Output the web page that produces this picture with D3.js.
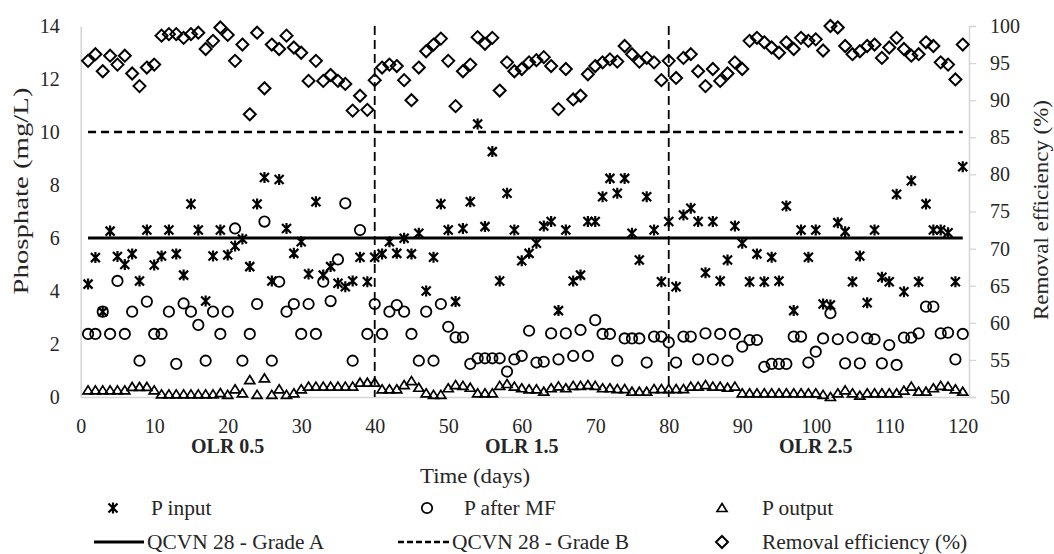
<!DOCTYPE html>
<html>
<head>
<meta charset="utf-8">
<script src="https://cdn.jsdelivr.net/npm/d3@7"></script>
<style>
  html, body { margin: 0; padding: 0; background: #fff; }
  svg { display: block; }
  text { font-family: "Liberation Serif", "DejaVu Serif", serif; fill: #262626; }
</style>
</head>
<body>
<svg id="chart" width="1054" height="554"></svg>
<script>
// ---------------- DATA ----------------
const days = [1,2,3,4,5,6,7,8,9,10,11,12,13,14,15,16,17,18,19,20,
  21,22,23,24,25,26,27,28,29,30,31,32,33,34,35,36,37,38,39,40,
  41,42,43,44,45,46,47,48,49,50,51,52,53,54,55,56,57,58,59,60,
  61,62,63,64,65,66,67,68,69,70,71,72,73,74,75,76,77,78,79,80,
  81,82,83,84,85,86,87,88,89,90,91,92,93,94,95,96,97,98,99,100,
  101,102,103,104,105,106,107,108,109,110,111,112,113,114,115,116,117,118,119,120];

const pInput = [4.26,5.26,3.22,6.26,5.3,5.0,5.4,4.38,6.3,4.98,
  5.32,6.3,5.4,4.6,7.28,6.3,3.62,5.32,6.3,5.36,
  5.7,5.96,4.92,7.28,8.28,4.38,8.21,6.36,5.42,5.86,
  4.64,7.37,4.6,4.92,4.29,4.16,4.38,5.27,4.35,5.27,
  5.4,5.86,5.42,5.99,5.4,6.18,4.0,5.27,7.28,6.3,
  3.6,6.36,7.37,10.3,6.43,9.26,4.38,7.69,6.3,5.14,
  5.42,5.8,6.45,6.62,3.26,6.3,4.38,4.6,6.62,6.62,
  7.56,8.25,7.69,8.25,6.18,5.17,7.56,6.3,4.35,6.62,
  4.16,6.87,7.12,6.62,4.69,6.62,4.38,5.17,6.45,5.8,
  4.35,5.4,4.35,5.27,4.38,7.21,3.26,6.3,5.27,6.3,
  3.51,3.47,6.58,6.24,4.35,5.32,3.56,6.3,4.52,4.35,
  7.65,3.97,8.16,4.35,7.28,6.3,6.3,6.2,4.35,8.69];

const pAfterMF = [2.38,2.38,3.22,2.38,4.38,2.38,3.22,1.37,3.6,2.38,
  2.38,3.22,1.25,3.53,3.22,2.72,1.37,3.22,2.38,3.22,
  6.36,1.37,2.38,3.51,6.62,1.37,4.35,3.22,3.51,2.38,
  3.51,2.38,4.35,3.62,5.19,7.31,1.37,6.3,2.38,3.51,
  2.38,3.22,3.47,3.22,2.38,1.37,3.22,1.37,3.51,2.65,
  2.25,2.25,1.25,1.46,1.46,1.46,1.46,0.96,1.42,1.55,
  2.5,1.3,1.33,2.4,1.42,2.4,1.55,2.53,1.55,2.9,
  2.38,2.38,1.37,2.21,2.21,2.21,1.3,2.28,2.28,2.06,
  1.3,2.28,2.28,1.42,2.4,1.42,2.38,1.37,2.38,1.9,
  2.15,2.15,1.14,1.25,1.25,1.25,2.28,2.28,1.3,1.71,
  2.21,3.16,2.18,1.27,2.25,1.27,2.21,2.18,1.27,1.96,
  1.21,2.24,2.24,2.4,3.41,3.41,2.4,2.43,1.42,2.38];

const pOutput = [0.25,0.25,0.25,0.25,0.25,0.25,0.38,0.38,0.38,0.25,
  0.1,0.1,0.1,0.1,0.1,0.1,0.1,0.1,0.15,0.08,
  0.29,0.14,0.64,0.08,0.7,0.08,0.29,0.08,0.14,0.29,
  0.39,0.39,0.39,0.39,0.39,0.39,0.39,0.54,0.54,0.54,
  0.29,0.29,0.29,0.45,0.6,0.35,0.14,0.08,0.08,0.33,
  0.45,0.42,0.35,0.14,0.14,0.14,0.42,0.49,0.39,0.33,
  0.29,0.29,0.2,0.33,0.4,0.33,0.42,0.42,0.45,0.42,
  0.33,0.33,0.3,0.3,0.2,0.2,0.2,0.3,0.3,0.3,
  0.3,0.3,0.39,0.39,0.45,0.39,0.39,0.35,0.39,0.14,
  0.14,0.14,0.14,0.14,0.14,0.14,0.14,0.14,0.14,0.14,
  0.08,0.0,0.14,0.25,0.14,0.05,0.14,0.14,0.14,0.14,
  0.14,0.24,0.39,0.2,0.2,0.33,0.42,0.39,0.29,0.2];

const removalEff = [95.3,96.2,93.9,96.0,94.8,96.0,93.6,91.9,94.4,94.8,
  98.7,98.9,98.9,98.4,98.9,99.1,96.9,98.0,99.8,98.8,
  95.3,97.5,88.1,99.1,91.6,97.5,96.9,98.7,97.1,96.4,
  92.6,95.3,92.6,93.4,92.6,92.2,88.6,90.6,88.7,92.7,
  94.4,94.8,94.6,92.7,90.0,94.4,96.6,97.5,98.3,95.3,
  89.2,93.9,94.8,98.5,97.6,98.4,91.3,95.1,93.9,94.2,
  95.1,95.4,95.8,94.6,88.8,94.2,90.1,90.6,93.5,94.6,
  95.1,95.5,95.2,97.3,96.2,95.2,95.7,95.1,92.7,95.3,
  93.0,95.7,96.2,93.9,91.9,94.2,92.6,93.6,95.1,94.2,
  98.0,98.4,97.8,97.1,96.4,97.8,96.9,98.4,98.0,98.2,
  96.7,100,99.8,97.3,96.2,96.6,97.3,97.5,95.7,97.1,
  98.4,96.9,96.0,96.2,97.8,97.3,95.1,94.8,92.8,97.5];

const gradeA = 6;      // QCVN 28 - Grade A (mg/L)
const gradeB = 10;     // QCVN 28 - Grade B (mg/L)
const phaseBounds = [40, 80];
const phaseLabels = ["OLR 0.5", "OLR 1.5", "OLR 2.5"];
const phaseCenters = [20, 60, 100];
const xTicks = [0,10,20,30,40,50,60,70,80,90,100,110,120];
const yLeftTicks = [0,2,4,6,8,10,12,14];
const yRightTicks = [50,55,60,65,70,75,80,85,90,95,100];
const legendNames = ["P input","P after MF","P output","QCVN 28 - Grade A","QCVN 28 - Grade B","Removal efficiency (%)"];

// ---------------- SCALES ----------------
const svg = d3.select("#chart");
const x = d3.scaleLinear().domain([0, 120.85]).range([80.7, 969]);
const yL = d3.scaleLinear().domain([0, 14]).range([397, 26]);
const yR = d3.scaleLinear().domain([50, 100]).range([397, 26]);

const axisColor = "#d4d4d4";

// axes
const gx = svg.append("g").attr("transform", "translate(0,397)")
  .call(d3.axisBottom(x).tickValues(xTicks).tickSize(0).tickPadding(22));
const gl = svg.append("g").attr("transform", "translate(80.7,0)")
  .call(d3.axisLeft(yL).tickValues(yLeftTicks).tickSize(0).tickPadding(21));
const gr = svg.append("g").attr("transform", "translate(969,0)")
  .call(d3.axisRight(yR).tickValues(yRightTicks).tickSize(7).tickPadding(14));
[gx, gl, gr].forEach(g => {
  g.select(".domain").attr("stroke", axisColor).attr("stroke-width", 1.5);
  g.selectAll(".tick line").attr("stroke", axisColor).attr("stroke-width", 1.2);
  g.selectAll(".tick text").attr("font-size", 20)
    .attr("font-family", '"Liberation Serif", serif').attr("fill", "#262626");
});

// reference lines
const d0 = days[0], dN = days[days.length - 1];
svg.append("line").attr("x1", x(d0)).attr("x2", x(dN))
  .attr("y1", yL(gradeA)).attr("y2", yL(gradeA))
  .attr("stroke", "#000").attr("stroke-width", 3);
svg.append("line").attr("x1", x(d0)).attr("x2", x(dN))
  .attr("y1", yL(gradeB)).attr("y2", yL(gradeB))
  .attr("stroke", "#000").attr("stroke-width", 2.6).attr("stroke-dasharray", "8,5");
phaseBounds.forEach(b => {
  svg.append("line").attr("x1", x(b)).attr("x2", x(b))
    .attr("y1", yL(14)).attr("y2", yL(0))
    .attr("stroke", "#000").attr("stroke-width", 1.8).attr("stroke-dasharray", "9,5");
});

// marker shapes
const starPath = "M-4.5,-4.5L4.5,4.5M-4.5,4.5L4.5,-4.5M0,-5.5L0,5.5";
const triPath = "M0,-4.5L5,3.5L-5,3.5Z";
const diaPath = "M0,-6L6,0L0,6L-6,0Z";

// P output triangles
svg.append("g").selectAll("path").data(days).join("path")
  .attr("d", triPath)
  .attr("transform", (d, i) => `translate(${x(d)},${yL(pOutput[i])})`)
  .attr("fill", "none").attr("stroke", "#000").attr("stroke-width", 1.7);

// P after MF circles
svg.append("g").selectAll("circle").data(days).join("circle")
  .attr("cx", d => x(d)).attr("cy", (d, i) => yL(pAfterMF[i])).attr("r", 5.2)
  .attr("fill", "none").attr("stroke", "#000").attr("stroke-width", 1.8);

// P input stars
svg.append("g").selectAll("path").data(days).join("path")
  .attr("d", starPath)
  .attr("transform", (d, i) => `translate(${x(d)},${yL(pInput[i])})`)
  .attr("fill", "none").attr("stroke", "#000").attr("stroke-width", 2.2);

// Removal efficiency diamonds (right axis)
svg.append("g").selectAll("path").data(days).join("path")
  .attr("d", diaPath)
  .attr("transform", (d, i) => `translate(${x(d)},${yR(removalEff[i])})`)
  .attr("fill", "none").attr("stroke", "#000").attr("stroke-width", 2);

// phase labels
svg.append("g").selectAll("text").data(phaseLabels).join("text")
  .attr("x", (d, i) => x(phaseCenters[i])).attr("y", 453)
  .attr("text-anchor", "middle").attr("font-size", 20).attr("font-weight", "bold")
  .attr("fill", "#111").text(d => d);

// axis titles
svg.append("text").attr("x", 475).attr("y", 483).attr("text-anchor", "middle")
  .attr("font-size", 20).attr("textLength", 110).attr("lengthAdjust", "spacingAndGlyphs")
  .text("Time (days)");
svg.append("text").attr("transform", "translate(28,191) rotate(-90)")
  .attr("text-anchor", "middle").attr("font-size", 20)
  .attr("textLength", 207).attr("lengthAdjust", "spacingAndGlyphs")
  .text("Phosphate (mg/L)");
svg.append("text").attr("transform", "translate(1048,210) rotate(-90)")
  .attr("text-anchor", "middle").attr("font-size", 20)
  .attr("textLength", 220).attr("lengthAdjust", "spacingAndGlyphs")
  .text("Removal efficiency (%)");

// legend
const leg = svg.append("g");
const r1 = 508, r2 = 542;
leg.append("path").attr("d", starPath).attr("transform", `translate(113,${r1})`)
  .attr("fill", "none").attr("stroke", "#000").attr("stroke-width", 2.2);
leg.append("circle").attr("cx", 427).attr("cy", r1).attr("r", 5.2)
  .attr("fill", "none").attr("stroke", "#000").attr("stroke-width", 1.8);
leg.append("path").attr("d", triPath).attr("transform", `translate(722,${r1})`)
  .attr("fill", "none").attr("stroke", "#000").attr("stroke-width", 1.7);
leg.append("line").attr("x1", 94).attr("x2", 144).attr("y1", r2).attr("y2", r2)
  .attr("stroke", "#000").attr("stroke-width", 3);
leg.append("line").attr("x1", 398).attr("x2", 450).attr("y1", r2).attr("y2", r2)
  .attr("stroke", "#000").attr("stroke-width", 2.6).attr("stroke-dasharray", "6,3");
leg.append("path").attr("d", diaPath).attr("transform", `translate(722,${r2})`)
  .attr("fill", "none").attr("stroke", "#000").attr("stroke-width", 2);
const legPos = [[151, r1], [464, r1], [762, r1], [147, r2], [452, r2], [762, r2]];
leg.selectAll("text.lt").data(legendNames).join("text").attr("class", "lt")
  .attr("x", (d, i) => legPos[i][0]).attr("y", (d, i) => legPos[i][1] + 6.5)
  .attr("font-size", 20).text(d => d)
  .each(function () {
    const w = this.getComputedTextLength();
    d3.select(this).attr("textLength", (w * 1.07).toFixed(1)).attr("lengthAdjust", "spacingAndGlyphs");
  });
</script>
</body>
</html>
